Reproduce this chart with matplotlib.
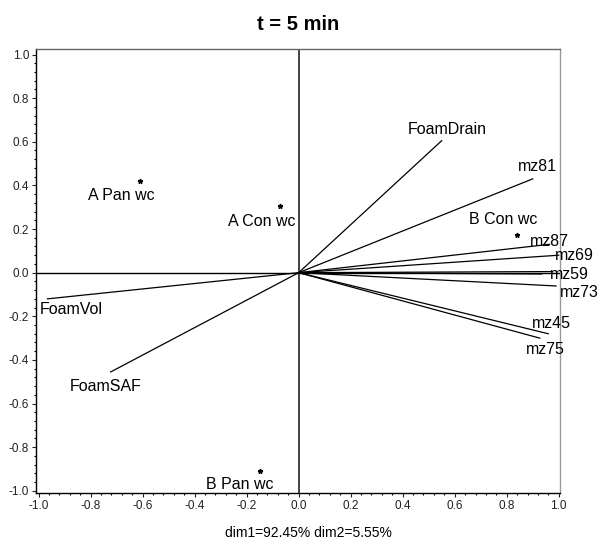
import matplotlib.pyplot as plt
from matplotlib.ticker import MultipleLocator

plt.rcParams["font.family"] = ["Liberation Sans", "DejaVu Sans"]

# variable vectors (dim1, dim2)
var_names = ["FoamDrain", "mz81", "mz87", "mz69", "mz59", "", "mz73",
             "mz45", "mz75", "FoamVol", "FoamSAF"]
var_x = [0.55, 0.90, 0.965, 1.00, 0.975, 0.935, 0.99, 0.96, 0.927, -0.966, -0.723]
var_y = [0.605, 0.43, 0.13, 0.08, 0.005, -0.006, -0.061, -0.28, -0.30, -0.12, -0.455]
# label anchor (left, centre y) in data units
var_lx = [0.418, 0.843, 0.889, 0.985, 0.966, 0.0, 1.004, 0.897, 0.874, -0.996, -0.881]
var_ly = [0.657, 0.487, 0.143, 0.078, -0.009, 0.0, -0.092, -0.234, -0.354, -0.17, -0.524]

# sample scores
obs_names = ["A Pan wc", "A Con wc", "B Con wc", "B Pan wc"]
obs_x = [-0.612, -0.072, 0.84, -0.148]
obs_y = [0.418, 0.307, 0.173, -0.907]
obs_lx = [-0.812, -0.272, 0.655, -0.356]
obs_ly = [0.354, 0.234, 0.244, -0.969]

fig = plt.figure(figsize=(6.01, 5.39), dpi=100)
ax = fig.add_axes([0.06, 0.0853, 0.8718, 0.8237])

ax.axhline(0, color="black", lw=1.0)
ax.axvline(0, color="#222222", lw=1.2)

for x, y in zip(var_x, var_y):
    ax.plot([0, x], [0, y], color="black", lw=0.9)

for name, lx, ly in zip(var_names, var_lx, var_ly):
    if name:
        ax.text(lx, ly, name, fontsize=11.5, ha="left", va="center")

ax.plot(obs_x, obs_y, ls="none", marker="*", ms=3.5, color="black")
for name, lx, ly in zip(obs_names, obs_lx, obs_ly):
    ax.text(lx, ly, name, fontsize=11.5, ha="left", va="center")

ax.set_xlim(-1.01, 1.005)
ax.set_ylim(-1.01, 1.025)
ax.xaxis.set_major_locator(MultipleLocator(0.2))
ax.yaxis.set_major_locator(MultipleLocator(0.2))
ax.xaxis.set_minor_locator(MultipleLocator(0.04))
ax.yaxis.set_minor_locator(MultipleLocator(0.04))
ax.xaxis.set_major_formatter(lambda v, p: f"{v:.1f}".replace("-0.0", "0.0"))
ax.yaxis.set_major_formatter(lambda v, p: f"{v:.1f}".replace("-0.0", "0.0"))
ax.tick_params(which="major", direction="out", length=3, width=0.8,
               labelsize=8.5, colors="#222222", pad=2)
ax.tick_params(which="minor", direction="out", length=1.5, width=0.8)

ax.spines["left"].set_color("black")
ax.spines["bottom"].set_color("black")
ax.spines["top"].set_color("#666666")
ax.spines["right"].set_color("#999999")
for s in ax.spines.values():
    s.set_linewidth(1.0)

ax.set_title("t = 5 min", fontsize=14.5, fontweight="bold", pad=14)
ax.set_xlabel("dim1=92.45% dim2=5.55%", fontsize=10, va="center")
ax.xaxis.set_label_coords(0.519, -0.091)

fig.savefig("out.png", dpi=100)
